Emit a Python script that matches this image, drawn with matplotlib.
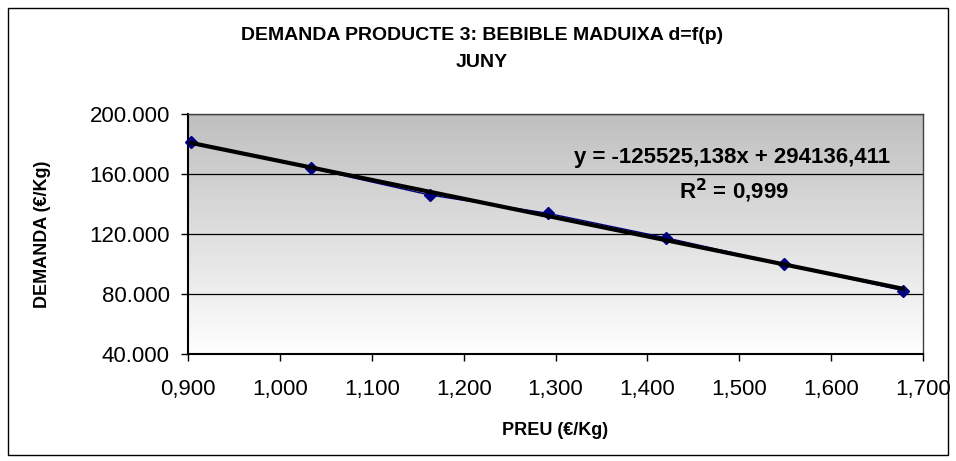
import matplotlib
matplotlib.use("Agg")
import matplotlib.pyplot as plt
import numpy as np
from matplotlib.patches import Rectangle
from matplotlib.ticker import FuncFormatter, MultipleLocator
from matplotlib.colors import LinearSegmentedColormap

plt.rcParams['font.family'] = ['Liberation Sans', 'DejaVu Sans']

preu = [0.903, 1.034, 1.163, 1.2915, 1.420, 1.549, 1.678]
demanda = [181300, 163800, 146000, 133800, 117500, 99800, 82300]
title_lines = ["DEMANDA PRODUCTE 3: BEBIBLE MADUIXA d=f(p)", "JUNY"]
eq_text = "y = -125525,138x + 294136,411"
r2_text = "R$^\\mathbf{2}$ = 0,999"
slope, intercept = -125525.138, 294136.411

W, H = 956, 461
fig = plt.figure(figsize=(W/100, H/100), dpi=100)
fig.patch.set_facecolor('white')
fig.add_artist(Rectangle((8/W, 1-455/H), 940/W, 447/H, transform=fig.transFigure,
                         fill=False, edgecolor='black', linewidth=1.0))

ax = fig.add_axes([188/W, 1-354/H, 735/W, 240/H])
ax.set_xlim(0.9, 1.7)
ax.set_ylim(40000, 200000)

grad = np.linspace(0, 1, 256).reshape(-1, 1)
cmap = LinearSegmentedColormap.from_list('g', ['#ffffff', '#bfbfbf'])
ax.imshow(grad, extent=[0, 1, 0, 1], transform=ax.transAxes, origin='lower',
          cmap=cmap, aspect='auto', zorder=0)

ax.yaxis.set_major_locator(MultipleLocator(40000))
ax.xaxis.set_major_locator(MultipleLocator(0.1))
ax.grid(axis='y', color='black', linewidth=0.9, zorder=1)

ax.yaxis.set_major_formatter(FuncFormatter(lambda v, p: f"{int(round(v)):,}".replace(",", ".")))
ax.xaxis.set_major_formatter(FuncFormatter(lambda v, p: f"{v:.3f}".replace(".", ",")))
ax.tick_params(axis='both', labelsize=16, direction='out', length=5, width=1, color='black')
ax.tick_params(axis='x', pad=13)
ax.tick_params(axis='y', pad=8)

for s in ['left', 'bottom']:
    ax.spines[s].set_linewidth(1.5)
    ax.spines[s].set_color('black')
for s in ['top', 'right']:
    ax.spines[s].set_linewidth(1.0)
    ax.spines[s].set_color('#404040')

ax.plot(preu, demanda, color='#000080', linewidth=1.0, marker='D', markersize=6.5,
        markerfacecolor='#000080', markeredgecolor='#000080', zorder=3, clip_on=False)
xs = np.array([min(preu), max(preu)])
ax.plot(xs, slope*xs + intercept, color='black', linewidth=3, zorder=4)

fig.text(555/W, 1-430/H, "PREU (€/Kg)", ha='center', va='center', fontsize=13, fontweight='bold')
fig.text(43/W, 1-234/H, "DEMANDA (€/Kg)", ha='center', va='center', rotation=90,
         fontsize=13, fontweight='bold')

fig.text(482/W, 1-35/H, title_lines[0], ha='center', va='center', fontsize=14, fontweight='bold')
fig.text(482/W, 1-62/H, title_lines[1], ha='center', va='center', fontsize=14, fontweight='bold')

fig.text(732/W, 1-158/H, eq_text, ha='center', va='center', fontsize=16, fontweight='bold', zorder=5)
fig.text(734/W, 1-191/H, r2_text, ha='center', va='center', fontsize=16, fontweight='bold', zorder=5)

fig.savefig("out.png", dpi=100)
